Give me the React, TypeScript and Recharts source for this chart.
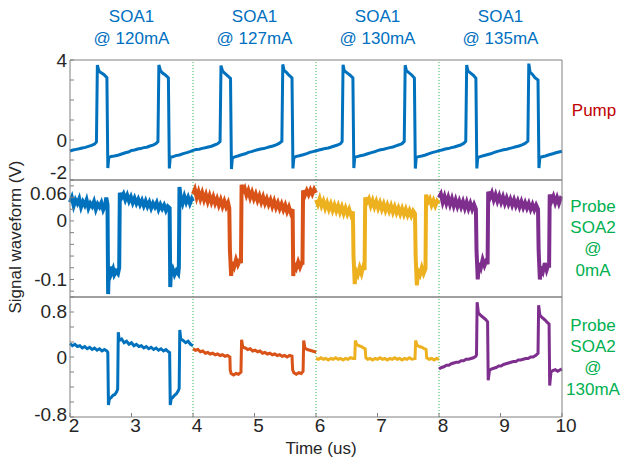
import React from 'react';
import { LineChart, Line, XAxis, YAxis, ReferenceLine } from 'recharts';

type Pt = [number, number];

// time axis (us)
const timeTicks = [2, 3, 4, 5, 6, 7, 8, 9, 10];
const sectionEdges = [4, 6, 8];
const sectionMid = [3, 5, 7, 9];
const soaCurrents = ['120mA', '127mA', '130mA', '135mA'];

// y ticks / labels per panel
const pumpTicks = [-2, -1, 0, 1, 2, 3, 4];
const pumpLabels = [4, 0, -2];
const probe0Ticks = [-0.12, -0.1, -0.08, -0.06, -0.04, -0.02, 0, 0.02, 0.04, 0.06];
const probe0Labels = [0.06, 0, -0.1];
const probe130Ticks = [-0.8, -0.6, -0.4, -0.2, 0, 0.2, 0.4, 0.6, 0.8];
const probe130Labels = [0.8, 0, -0.8];

// pump waveform (V)
const pumpTrace: Pt[] = [
  [2.00,-0.55],[2.05,-0.50],[2.10,-0.47],[2.15,-0.44],[2.20,-0.40],[2.25,-0.37],[2.30,-0.32],[2.35,-0.27],[2.40,-0.20],[2.43,-0.10],
  [2.445,3.75],[2.47,3.45],[2.50,3.38],[2.55,3.28],[2.60,3.12],[2.615,-1.40],[2.63,-0.88],[2.67,-0.82],[2.72,-0.80],[2.78,-0.76],[2.84,-0.70],[2.90,-0.64],[2.95,-0.60],
  [3.00,-0.52],[3.05,-0.50],[3.10,-0.45],[3.15,-0.43],[3.20,-0.38],[3.25,-0.36],[3.30,-0.30],[3.35,-0.26],[3.40,-0.18],[3.43,-0.08],
  [3.445,3.75],[3.47,3.48],[3.50,3.36],[3.55,3.25],[3.60,3.10],[3.615,-1.42],[3.63,-0.86],[3.67,-0.84],[3.72,-0.78],[3.78,-0.75],[3.84,-0.68],[3.90,-0.63],[3.95,-0.58],
  [4.00,-0.52],[4.05,-0.48],[4.10,-0.46],[4.15,-0.42],[4.20,-0.39],[4.25,-0.35],[4.30,-0.31],[4.35,-0.25],[4.40,-0.19],[4.44,-0.08],
  [4.455,3.72],[4.48,3.45],[4.51,3.36],[4.56,3.22],[4.61,3.08],[4.625,-1.45],[4.64,-0.90],[4.68,-0.84],[4.73,-0.80],[4.79,-0.74],[4.85,-0.69],[4.90,-0.62],[4.95,-0.58],
  [5.00,-0.53],[5.05,-0.49],[5.10,-0.45],[5.15,-0.43],[5.20,-0.38],[5.25,-0.34],[5.30,-0.30],[5.35,-0.24],[5.40,-0.17],[5.445,-0.06],
  [5.46,3.78],[5.48,3.48],[5.52,3.38],[5.56,3.24],[5.61,3.10],[5.625,-1.42],[5.64,-0.88],[5.68,-0.82],[5.73,-0.79],[5.79,-0.74],[5.85,-0.68],[5.90,-0.62],[5.95,-0.58],
  [6.00,-0.54],[6.05,-0.50],[6.10,-0.46],[6.15,-0.42],[6.20,-0.40],[6.25,-0.35],[6.30,-0.30],[6.35,-0.25],[6.40,-0.18],[6.425,-0.08],
  [6.44,3.76],[6.46,3.46],[6.50,3.37],[6.55,3.25],[6.60,3.10],[6.615,-1.40],[6.63,-0.86],[6.67,-0.83],[6.72,-0.79],[6.78,-0.75],[6.84,-0.69],[6.90,-0.63],[6.95,-0.59],
  [7.00,-0.53],[7.05,-0.49],[7.10,-0.46],[7.15,-0.42],[7.20,-0.38],[7.25,-0.35],[7.30,-0.29],[7.35,-0.24],[7.40,-0.18],[7.435,-0.07],
  [7.45,3.74],[7.47,3.47],[7.51,3.37],[7.56,3.24],[7.60,3.10],[7.615,-1.43],[7.63,-0.87],[7.67,-0.83],[7.72,-0.80],[7.78,-0.75],[7.84,-0.68],[7.90,-0.62],[7.95,-0.58],
  [8.00,-0.53],[8.05,-0.50],[8.10,-0.45],[8.15,-0.43],[8.20,-0.38],[8.25,-0.35],[8.30,-0.30],[8.35,-0.25],[8.40,-0.17],[8.435,-0.07],
  [8.45,3.75],[8.47,3.46],[8.51,3.36],[8.56,3.23],[8.60,3.08],[8.615,-1.42],[8.63,-0.88],[8.67,-0.83],[8.72,-0.79],[8.78,-0.74],[8.84,-0.69],[8.90,-0.62],[8.95,-0.57],
  [9.00,-0.53],[9.05,-0.49],[9.10,-0.46],[9.15,-0.42],[9.20,-0.38],[9.25,-0.34],[9.30,-0.30],[9.35,-0.24],[9.40,-0.17],[9.445,-0.05],
  [9.46,3.82],[9.48,3.40],[9.52,3.28],[9.56,3.12],[9.61,3.00],[9.625,-1.40],[9.64,-0.88],[9.68,-0.84],[9.73,-0.80],[9.79,-0.74],[9.85,-0.69],[9.90,-0.64],[9.95,-0.60],[10.00,-0.56],
];

// probe, SOA2 @ 0mA (V)
const probe0Blue: Pt[] = [
  [2.00,0.032],[2.03,0.040],[2.06,0.026],[2.09,0.036],[2.12,0.030],[2.15,0.038],[2.18,0.024],[2.21,0.033],[2.24,0.027],[2.27,0.036],[2.30,0.022],[2.33,0.030],
  [2.36,0.025],[2.39,0.033],[2.42,0.020],[2.45,0.029],[2.48,0.024],[2.51,0.031],[2.54,0.019],[2.57,0.026],[2.59,0.040],[2.61,0.028],
  [2.62,-0.125],[2.63,-0.085],[2.65,-0.078],[2.67,-0.090],[2.70,-0.082],[2.72,-0.092],[2.75,-0.086],[2.78,-0.090],[2.80,-0.080],
  [2.81,0.048],[2.84,0.040],[2.87,0.046],[2.90,0.036],[2.93,0.044],[2.96,0.034],[2.99,0.041],[3.02,0.031],[3.05,0.039],[3.08,0.030],[3.11,0.037],
  [3.14,0.028],[3.17,0.035],[3.20,0.026],[3.23,0.034],[3.26,0.025],[3.29,0.032],[3.32,0.022],[3.35,0.030],[3.38,0.024],[3.41,0.031],[3.44,0.020],
  [3.47,0.028],[3.50,0.021],[3.53,0.027],[3.56,0.018],[3.59,0.025],[3.62,0.022],
  [3.63,-0.113],[3.64,-0.090],[3.67,-0.082],[3.70,-0.092],[3.73,-0.085],[3.76,-0.090],[3.77,-0.080],
  [3.78,0.058],[3.80,0.040],[3.83,0.030],[3.86,0.042],[3.89,0.032],[3.92,0.040],[3.95,0.030],[3.98,0.038],[4.00,0.034],
];
const probe0Orange: Pt[] = [
  [4.00,0.046],[4.03,0.054],[4.06,0.040],[4.09,0.050],[4.12,0.038],[4.15,0.048],[4.18,0.036],[4.21,0.045],[4.24,0.033],[4.27,0.043],[4.30,0.032],
  [4.33,0.041],[4.36,0.030],[4.39,0.038],[4.42,0.027],[4.45,0.036],[4.48,0.025],[4.51,0.034],[4.54,0.024],[4.57,0.031],[4.59,0.022],
  [4.60,-0.050],[4.62,-0.094],[4.64,-0.070],[4.67,-0.078],[4.70,-0.066],[4.73,-0.075],[4.76,-0.068],[4.78,-0.072],
  [4.79,0.062],[4.81,0.050],[4.84,0.056],[4.87,0.044],[4.90,0.052],[4.93,0.040],[4.96,0.049],[4.99,0.038],[5.02,0.046],[5.05,0.035],[5.08,0.043],
  [5.11,0.032],[5.14,0.041],[5.17,0.030],[5.20,0.038],[5.23,0.028],[5.26,0.036],[5.29,0.025],[5.32,0.034],[5.35,0.023],[5.38,0.031],[5.41,0.021],
  [5.44,0.029],[5.47,0.019],[5.50,0.027],[5.53,0.016],[5.56,0.024],[5.59,0.014],[5.62,0.020],
  [5.63,-0.094],[5.65,-0.072],[5.68,-0.080],[5.71,-0.070],[5.74,-0.079],[5.77,-0.071],[5.78,-0.075],
  [5.79,0.052],[5.82,0.044],[5.85,0.052],[5.88,0.045],[5.91,0.053],[5.94,0.046],[5.97,0.054],[6.00,0.048],
];
const probe0Yellow: Pt[] = [
  [6.00,0.036],[6.03,0.028],[6.06,0.038],[6.09,0.026],[6.12,0.034],[6.15,0.022],[6.18,0.031],[6.21,0.020],[6.24,0.029],[6.27,0.018],[6.30,0.027],
  [6.33,0.017],[6.36,0.026],[6.39,0.015],[6.42,0.024],[6.45,0.013],[6.48,0.022],[6.51,0.012],[6.54,0.020],[6.57,0.010],[6.60,0.016],
  [6.61,-0.060],[6.63,-0.108],[6.65,-0.085],[6.68,-0.092],[6.71,-0.080],[6.74,-0.090],[6.77,-0.078],[6.79,-0.084],
  [6.80,0.040],[6.83,0.032],[6.86,0.038],[6.89,0.026],[6.92,0.035],[6.95,0.024],[6.98,0.033],[7.01,0.022],[7.04,0.031],[7.07,0.020],[7.10,0.029],
  [7.13,0.018],[7.16,0.027],[7.19,0.017],[7.22,0.026],[7.25,0.015],[7.28,0.024],[7.31,0.014],[7.34,0.022],[7.37,0.012],[7.40,0.021],[7.43,0.011],
  [7.46,0.020],[7.49,0.010],[7.52,0.018],[7.55,0.009],[7.58,0.017],[7.61,0.012],
  [7.62,-0.060],[7.64,-0.110],[7.66,-0.086],[7.69,-0.092],[7.72,-0.080],[7.75,-0.090],[7.78,-0.082],
  [7.79,0.045],[7.82,0.032],[7.85,0.038],[7.88,0.027],[7.91,0.035],[7.94,0.026],[7.97,0.034],[8.00,0.030],
];
const probe0Purple: Pt[] = [
  [8.00,0.040],[8.03,0.046],[8.06,0.032],[8.09,0.042],[8.12,0.030],[8.15,0.040],[8.18,0.028],[8.21,0.038],[8.24,0.026],[8.27,0.036],[8.30,0.025],
  [8.33,0.034],[8.36,0.024],[8.39,0.033],[8.42,0.022],[8.45,0.032],[8.48,0.021],[8.51,0.030],[8.54,0.020],[8.57,0.028],[8.60,0.020],
  [8.61,-0.050],[8.63,-0.100],[8.65,-0.072],[8.68,-0.080],[8.71,-0.066],[8.74,-0.076],[8.77,-0.068],[8.79,-0.074],
  [8.80,0.050],[8.83,0.040],[8.86,0.048],[8.89,0.036],[8.92,0.045],[8.95,0.034],[8.98,0.043],[9.01,0.032],[9.04,0.041],[9.07,0.030],[9.10,0.039],
  [9.13,0.029],[9.16,0.037],[9.19,0.027],[9.22,0.036],[9.25,0.026],[9.28,0.034],[9.31,0.024],[9.34,0.033],[9.37,0.023],[9.40,0.031],[9.43,0.022],
  [9.46,0.030],[9.49,0.020],[9.52,0.028],[9.55,0.019],[9.58,0.027],[9.61,0.020],
  [9.62,-0.050],[9.64,-0.100],[9.66,-0.078],[9.69,-0.086],[9.72,-0.072],[9.75,-0.084],[9.78,-0.074],[9.79,-0.080],
  [9.80,0.045],[9.83,0.034],[9.86,0.042],[9.89,0.031],[9.92,0.040],[9.95,0.030],[9.98,0.039],[10.00,0.038],
];

// probe, SOA2 @ 130mA (V)
const probe130Blue: Pt[] = [
  [2.00,0.18],[2.04,0.15],[2.08,0.17],[2.12,0.14],[2.16,0.15],[2.20,0.12],[2.24,0.14],[2.28,0.11],[2.32,0.13],[2.36,0.10],[2.40,0.12],[2.44,0.09],
  [2.48,0.11],[2.52,0.08],[2.56,0.10],[2.60,0.08],[2.615,0.06],
  [2.625,-0.64],[2.64,-0.56],[2.67,-0.54],[2.70,-0.51],[2.73,-0.50],[2.76,-0.46],[2.775,-0.43],
  [2.785,0.33],[2.80,0.22],[2.84,0.24],[2.88,0.19],[2.92,0.21],[2.96,0.17],[3.00,0.19],[3.04,0.15],[3.08,0.17],[3.12,0.14],[3.16,0.15],[3.20,0.12],
  [3.24,0.14],[3.28,0.11],[3.32,0.13],[3.36,0.10],[3.40,0.12],[3.44,0.09],[3.48,0.11],[3.52,0.08],[3.56,0.10],[3.60,0.07],[3.62,0.06],
  [3.63,-0.64],[3.645,-0.56],[3.67,-0.54],[3.70,-0.51],[3.73,-0.49],[3.76,-0.45],[3.775,-0.42],
  [3.785,0.36],[3.80,0.24],[3.84,0.22],[3.88,0.19],[3.92,0.21],[3.96,0.17],[4.00,0.15],
];
const probe130Orange: Pt[] = [
  [4.00,0.11],[4.04,0.09],[4.08,0.10],[4.12,0.07],[4.16,0.08],[4.20,0.05],[4.24,0.06],[4.28,0.04],[4.32,0.05],[4.36,0.03],[4.40,0.04],[4.44,0.02],
  [4.48,0.03],[4.52,0.01],[4.56,0.02],[4.60,0.00],
  [4.605,-0.17],[4.62,-0.22],[4.66,-0.24],[4.70,-0.22],[4.74,-0.23],[4.78,-0.20],
  [4.79,0.23],[4.81,0.13],[4.85,0.12],[4.89,0.10],[4.93,0.11],[4.97,0.08],[5.01,0.09],[5.05,0.07],[5.09,0.08],[5.13,0.05],[5.17,0.06],[5.21,0.04],
  [5.25,0.05],[5.29,0.03],[5.33,0.04],[5.37,0.02],[5.41,0.03],[5.45,0.01],[5.49,0.02],[5.53,0.00],[5.57,0.02],[5.61,0.01],
  [5.62,-0.17],[5.64,-0.21],[5.68,-0.23],[5.72,-0.21],[5.76,-0.22],[5.79,-0.19],
  [5.80,0.22],[5.82,0.12],[5.86,0.10],[5.90,0.09],[5.94,0.08],[5.98,0.07],[6.00,0.06],
];
const probe130Yellow: Pt[] = [
  [6.00,-0.02],[6.04,-0.03],[6.08,-0.01],[6.12,-0.03],[6.16,-0.02],[6.20,-0.04],[6.24,-0.02],[6.28,-0.03],[6.32,-0.01],[6.36,-0.03],[6.40,-0.02],
  [6.44,-0.04],[6.48,-0.02],[6.52,-0.03],[6.56,-0.01],[6.60,-0.02],[6.63,-0.02],
  [6.64,0.22],[6.66,0.17],[6.70,0.15],[6.74,0.14],[6.77,0.12],[6.80,0.11],
  [6.81,-0.01],[6.84,-0.03],[6.88,-0.02],[6.92,-0.04],[6.96,-0.02],[7.00,-0.03],[7.04,-0.01],[7.08,-0.03],[7.12,-0.02],[7.16,-0.04],[7.20,-0.02],
  [7.24,-0.03],[7.28,-0.01],[7.32,-0.03],[7.36,-0.02],[7.40,-0.04],[7.44,-0.02],[7.48,-0.03],[7.52,-0.01],[7.56,-0.03],[7.61,-0.02],
  [7.62,0.22],[7.64,0.16],[7.68,0.14],[7.72,0.13],[7.76,0.11],[7.79,0.10],
  [7.80,-0.01],[7.84,-0.03],[7.88,-0.02],[7.92,-0.04],[7.96,-0.02],[8.00,-0.03],
];
const probe130Purple: Pt[] = [
  [8.00,-0.16],[8.04,-0.14],[8.08,-0.13],[8.12,-0.11],[8.16,-0.11],[8.20,-0.09],[8.24,-0.08],[8.28,-0.07],[8.32,-0.07],[8.36,-0.05],[8.40,-0.05],
  [8.44,-0.03],[8.48,-0.03],[8.52,-0.02],[8.56,-0.01],[8.60,0.01],[8.61,0.03],
  [8.62,0.73],[8.64,0.59],[8.67,0.56],[8.70,0.54],[8.73,0.52],[8.76,0.50],[8.79,0.47],
  [8.80,-0.31],[8.82,-0.18],[8.85,-0.16],[8.89,-0.15],[8.93,-0.14],[8.97,-0.12],[9.01,-0.12],[9.05,-0.10],[9.09,-0.09],[9.13,-0.08],[9.17,-0.07],
  [9.21,-0.06],[9.25,-0.06],[9.29,-0.04],[9.33,-0.04],[9.37,-0.03],[9.41,-0.02],[9.45,-0.02],[9.49,0.00],[9.53,0.00],[9.57,0.02],[9.61,0.05],
  [9.62,0.69],[9.64,0.56],[9.67,0.53],[9.70,0.51],[9.73,0.49],[9.76,0.46],[9.79,0.44],
  [9.80,-0.38],[9.82,-0.20],[9.85,-0.18],[9.89,-0.17],[9.93,-0.19],[9.97,-0.17],[10.00,-0.16],
];

const W = 623;
const H = 461;
const PLOT_L = 70;
const PLOT_R = 562;
const FONT = '"Liberation Sans", Arial, Helvetica, sans-serif';
const AXIS = '#808080';
const TEXT = '#262626';
const BLUE = '#0072BD';
const ORANGE = '#D95319';
const YELLOW = '#EDB120';
const PURPLE = '#7E2F8E';
const EDGE_GREEN = '#2DB84D';

const toRows = (pts: Pt[]) => pts.map(([t, v]) => ({ t, v }));
const xPx = (t: number) => PLOT_L + ((t - 2) / 8) * (PLOT_R - PLOT_L);

const YTick = (props: any) => {
  const { x, y, payload, labels, nudge } = props;
  const v = payload.value;
  if (!labels.includes(v)) return <g />;
  const dy = (nudge && nudge[String(v)]) || 0;
  return (
    <text x={x} y={y + dy} textAnchor="end" dominantBaseline="central"
      fontSize={19} fill={TEXT} fontFamily={FONT}>{String(v)}</text>
  );
};

interface Trace { pts: Pt[]; color: string }

interface PanelProps {
  top: number;
  bottom: number;
  domain: [number, number];
  ticks: number[];
  labels: number[];
  traces: Trace[];
  showTime?: boolean;
  nudge?: Record<string, number>;
  lineWidth?: number;
}

const Panel = (p: PanelProps) => (
  <div style={{ position: 'absolute', left: 0, top: 0 }}>
    <LineChart width={W} height={H}
      margin={{ top: p.top - 1, bottom: H - p.bottom - 1, left: PLOT_L - 60, right: W - PLOT_R - 1 }}>
      <XAxis xAxisId="b" type="number" dataKey="t" domain={[2, 10]} ticks={timeTicks} interval={0}
        height={1} stroke={AXIS} tickSize={-4} tickMargin={6}
        tick={p.showTime ? { fontSize: 19, fill: TEXT, fontFamily: FONT, dx: 4 } : false} />
      <XAxis xAxisId="top" orientation="top" type="number" domain={[2, 10]} ticks={timeTicks}
        interval={0} height={1} stroke={AXIS} tickSize={-4} tick={false} />
      <YAxis yAxisId="l" type="number" domain={p.domain} ticks={p.ticks} interval={0} width={60}
        stroke={AXIS} tickSize={-4} tickMargin={7}
        tick={(tp: any) => <YTick {...tp} labels={p.labels} nudge={p.nudge} />} />
      <YAxis yAxisId="r" orientation="right" type="number" domain={p.domain} ticks={p.ticks}
        interval={0} width={1} stroke={AXIS} tickSize={-4} tick={false} />
      {sectionEdges.map((e) => (
        <ReferenceLine key={e} xAxisId="b" yAxisId="l" x={e} stroke={EDGE_GREEN}
          strokeDasharray="1 2" strokeWidth={1} />
      ))}
      {p.traces.map((tr, i) => (
        <Line key={i} xAxisId="b" yAxisId="l" data={toRows(tr.pts)} dataKey="v" type="linear"
          stroke={tr.color} strokeWidth={p.lineWidth || 3} dot={false} isAnimationActive={false} />
      ))}
    </LineChart>
  </div>
);

const Label = ({ x, y, color, children, size = 17 }: any) => (
  <div style={{
    position: 'absolute', left: x, top: y, transform: 'translate(-50%, -50%)', color,
    fontSize: size, fontFamily: FONT, whiteSpace: 'nowrap', lineHeight: 1,
  }}>{children}</div>
);

export default function App() {
  return (
    <div style={{ position: 'absolute', left: 0, top: 0, width: W, height: H, background: '#fff', overflow: 'hidden' }}>
      <Panel top={60} bottom={180} domain={[-2, 4]} ticks={pumpTicks} labels={pumpLabels}
        nudge={{ '-2': -8 }}
        traces={[{ pts: pumpTrace, color: BLUE }]} />
      <Panel top={180} bottom={297} domain={[-0.13, 0.07]} ticks={probe0Ticks} labels={probe0Labels}
        nudge={{ '0.06': 8 }} lineWidth={4}
        traces={[
          { pts: probe0Blue, color: BLUE },
          { pts: probe0Orange, color: ORANGE },
          { pts: probe0Yellow, color: YELLOW },
          { pts: probe0Purple, color: PURPLE },
        ]} />
      <Panel top={297} bottom={417} domain={[-0.8, 0.8]} ticks={probe130Ticks} labels={probe130Labels}
        nudge={{ '0.8': 14, '-0.8': -3 }} showTime
        traces={[
          { pts: probe130Blue, color: BLUE },
          { pts: probe130Orange, color: ORANGE },
          { pts: probe130Yellow, color: YELLOW },
          { pts: probe130Purple, color: PURPLE },
        ]} />

      {sectionMid.map((t, i) => (
        <React.Fragment key={t}>
          <Label x={xPx(t)} y={16} color="#0070C0">SOA1</Label>
          <Label x={xPx(t)} y={38} color="#0070C0">@ {soaCurrents[i]}</Label>
        </React.Fragment>
      ))}

      <Label x={594} y={110} color="#C00000">Pump</Label>
      <Label x={593} y={206} color="#00B050">Probe</Label>
      <Label x={593} y={227} color="#00B050">SOA2</Label>
      <Label x={593} y={248} color="#00B050">@</Label>
      <Label x={593} y={270} color="#00B050">0mA</Label>
      <Label x={593} y={325} color="#00B050">Probe</Label>
      <Label x={593} y={346} color="#00B050">SOA2</Label>
      <Label x={593} y={367} color="#00B050">@</Label>
      <Label x={593} y={389} color="#00B050">130mA</Label>

      <div style={{
        position: 'absolute', left: 15, top: 237, transform: 'translate(-50%, -50%) rotate(-90deg)',
        fontSize: 17, fontFamily: FONT, color: TEXT, whiteSpace: 'nowrap', lineHeight: 1,
      }}>Signal waveform (V)</div>
      <Label x={321} y={448} color={TEXT}>Time (us)</Label>
    </div>
  );
}
